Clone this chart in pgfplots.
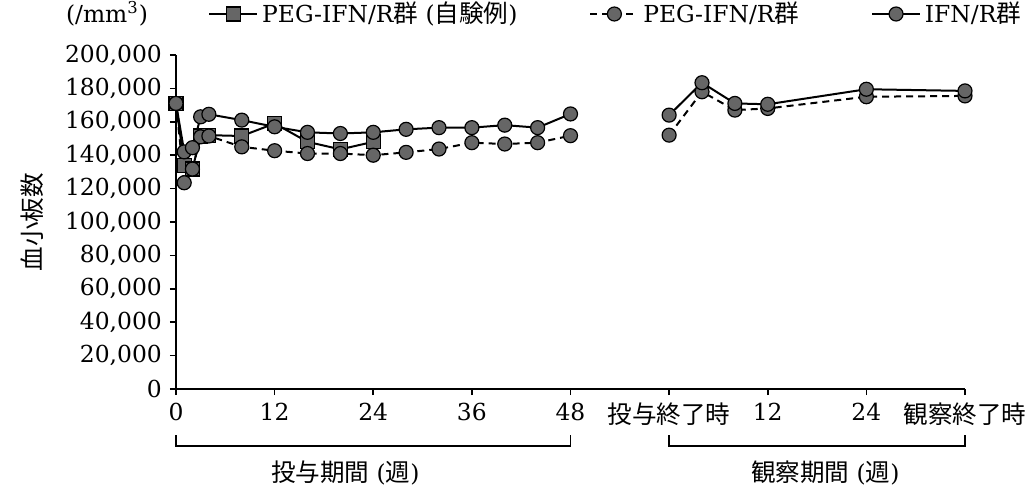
\documentclass[border=0pt]{standalone}
\usepackage{fontspec}
\setmainfont{DejaVu Serif}
\newfontfamily\jp[Scale=1.05]{Noto Sans CJK JP}
\usepackage{pgfplots}
\pgfplotsset{compat=1.18}
\pgfplotsset{
  circ/.style={black, line width=1pt, mark=*, mark size=3.5pt,
    mark options={solid, fill=black!60, draw=black, line width=0.6pt}},
  sq/.style={black, line width=1pt, mark=square*, mark size=3.5pt,
    mark options={solid, fill=black!60, draw=black, line width=0.6pt}},
}
\begin{document}
\fontsize{11.7}{14}\selectfont
\begin{tikzpicture}
\begin{axis}[
  scale only axis, width=394.5pt, height=167pt,
  xmin=0, xmax=96, ymin=0, ymax=200000,
  axis x line=bottom, axis y line=left,
  axis line style={-, line width=0.8pt},
  xtick={0,12,24,36,48,60,72,84,96},
  xticklabels={0,12,24,36,48,{\jp 投与終了時},12,24,{\jp 観察終了時}},
  ytick={0,20000,...,200000},
  yticklabels={0,{20,000},{40,000},{60,000},{80,000},{100,000},{120,000},{140,000},{160,000},{180,000},{200,000}},
  scaled y ticks=false,
  tick align=outside, major tick length=3pt,
  tick style={black, line width=0.8pt},
  clip=false,
  legend columns=3,
  legend style={draw=none, fill=none, at={(0,1)}, anchor=west,
    xshift=16pt, yshift=20.5pt, inner sep=0pt,
    /tikz/every even column/.append style={column sep=34pt}},
  legend image code/.code={\draw[mark repeat=2,mark phase=2,#1] plot coordinates {(0cm,0cm) (0.42cm,0cm) (0.84cm,0cm)};},
]
% PEG-IFN/R (own cases), squares
\addplot[sq] coordinates {
 (0,171000) (1,134000) (2,131700) (3,151500) (4,152000) (8,151500)
 (12,159000) (16,148000) (20,143500) (24,148000)
};
\addlegendentry{PEG-IFN/R{\jp 群} ({\jp 自験例})}
% PEG-IFN/R, dashed circles
\addplot[circ, dashed, dash pattern=on 3.5pt off 2.5pt] coordinates {
 (0,171000) (1,123500) (2,131700) (3,151000) (4,151500) (8,145000)
 (12,142700) (16,141000) (20,141000) (24,140000) (28,141700) (32,143700)
 (36,147500) (40,146700) (44,147500) (48,151700)
};
\addlegendentry{PEG-IFN/R{\jp 群}}
% IFN/R, solid circles
\addplot[circ] coordinates {
 (0,171000) (1,142000) (2,144500) (3,163000) (4,164500) (8,161000)
 (12,157000) (16,153700) (20,153000) (24,153700) (28,155500) (32,156500)
 (36,156500) (40,158000) (44,156500) (48,164700)
};
\addlegendentry{IFN/R{\jp 群}}
% observation period
\addplot[circ, dashed, dash pattern=on 3.5pt off 2.5pt, forget plot] coordinates {
 (60,152000) (64,178000) (68,167000) (72,168000) (84,175000) (96,175500)
};
\addplot[circ, forget plot] coordinates {
 (60,164000) (64,183400) (68,171000) (72,170500) (84,179500) (96,178500)
};
% brackets
\draw[line width=0.7pt] ([yshift=-23pt]axis cs:0,0) -- ([yshift=-28.5pt]axis cs:0,0) -- ([yshift=-28.5pt]axis cs:48,0) -- ([yshift=-23pt]axis cs:48,0);
\draw[line width=0.7pt] ([yshift=-23pt]axis cs:60,0) -- ([yshift=-28.5pt]axis cs:60,0) -- ([yshift=-28.5pt]axis cs:96,0) -- ([yshift=-23pt]axis cs:96,0);
\node at ([yshift=-42pt]axis cs:20.6,0) {{\jp 投与期間} ({\jp 週})};
\node at ([yshift=-42pt]axis cs:79,0) {{\jp 観察期間} ({\jp 週})};
\node at ([xshift=-34.5pt, yshift=20.5pt]axis cs:0,200000) {(/mm\textsuperscript{3})};
\node[rotate=90] at ([xshift=-72pt]axis cs:0,100000) {\jp 血小板数};
\end{axis}
\pgfresetboundingbox
\path ([xshift=-88pt,yshift=-49.5pt]current axis.south west) rectangle ([xshift=31.5pt,yshift=27.5pt]current axis.north east);
\end{tikzpicture}
\end{document}
